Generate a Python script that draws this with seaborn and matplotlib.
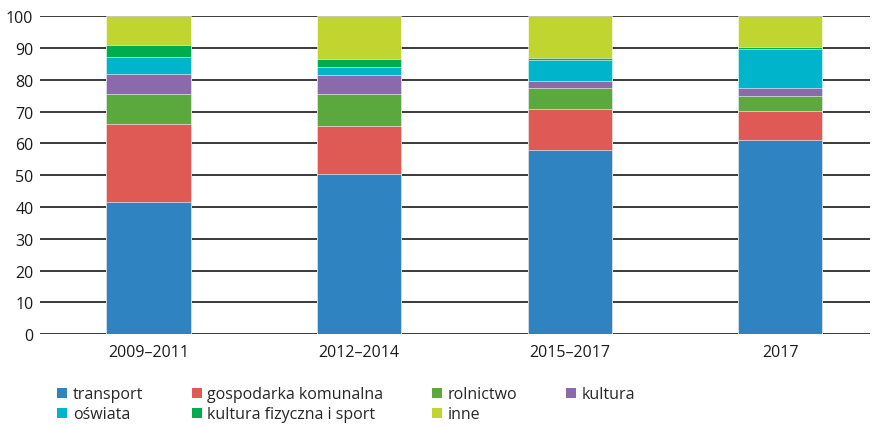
import numpy as np
import pandas as pd
import matplotlib
matplotlib.use("Agg")
import matplotlib.pyplot as plt
import seaborn as sns
from matplotlib.patches import Patch

# Data (percent shares)
periods = ["2009–2011", "2012–2014", "2015–2017", "2017"]
categories = ["transport", "gospodarka komunalna", "rolnictwo", "kultura",
              "oświata", "kultura fizyczna i sport", "inne"]
transport = [41.5, 50.5, 58.0, 61.0]
gospodarka = [24.5, 15.0, 12.8, 9.3]
rolnictwo = [9.5, 10.0, 6.5, 4.7]
kultura = [6.2, 6.0, 2.3, 2.3]
oswiata = [5.3, 2.5, 6.5, 12.4]
sport = [4.0, 2.5, 0.7, 0.6]
inne = [9.0, 13.5, 13.2, 9.7]

colors = ["#2e83c0", "#e05a55", "#5ba83f", "#8a6aab",
          "#00b4cb", "#00ac4d", "#c0d530"]

df = pd.DataFrame({
    "okres": periods,
    "transport": transport,
    "gospodarka komunalna": gospodarka,
    "rolnictwo": rolnictwo,
    "kultura": kultura,
    "oświata": oswiata,
    "kultura fizyczna i sport": sport,
    "inne": inne,
})

sns.set_style("white")
plt.rcParams["font.family"] = ["Open Sans", "DejaVu Sans"]

fig, ax = plt.subplots(figsize=(8.77, 4.27), dpi=100)
fig.subplots_adjust(left=0.046, right=0.992, bottom=0.215, top=0.96)

# Stacked bars: draw cumulative totals from the top layer down
cum = df[categories].cumsum(axis=1)
for cat, col in reversed(list(zip(categories, colors))):
    sns.barplot(x=df["okres"], y=cum[cat], color=col, width=0.40,
                saturation=1, ax=ax, zorder=3, edgecolor="white", linewidth=0.4)

ax.set_xlim(-0.513, 3.426)
ax.set_ylim(0, 100)
ax.set_yticks(np.arange(0, 101, 10))
ax.yaxis.grid(True, color="#2b2b2b", linewidth=1.3, zorder=0)
ax.set_axisbelow(True)
ax.set_xlabel("")
ax.set_ylabel("")
ax.tick_params(axis="both", length=0, labelsize=11.5, colors="#1a1a1a")
ax.tick_params(axis="x", pad=7)
ax.tick_params(axis="y", pad=5)
for s in ax.spines.values():
    s.set_visible(False)

handles = [Patch(facecolor=c, edgecolor="none") for c in colors]
order = [0, 4, 1, 5, 2, 6, 3]
fig.legend([handles[i] for i in order], [categories[i] for i in order],
           ncol=4, loc="lower left", bbox_to_anchor=(0.049, -0.025),
           frameon=False, fontsize=11.5, handlelength=0.6, handleheight=0.6,
           handletextpad=0.37, columnspacing=3.05, labelspacing=0.25)

plt.savefig("out.png", dpi=100)
